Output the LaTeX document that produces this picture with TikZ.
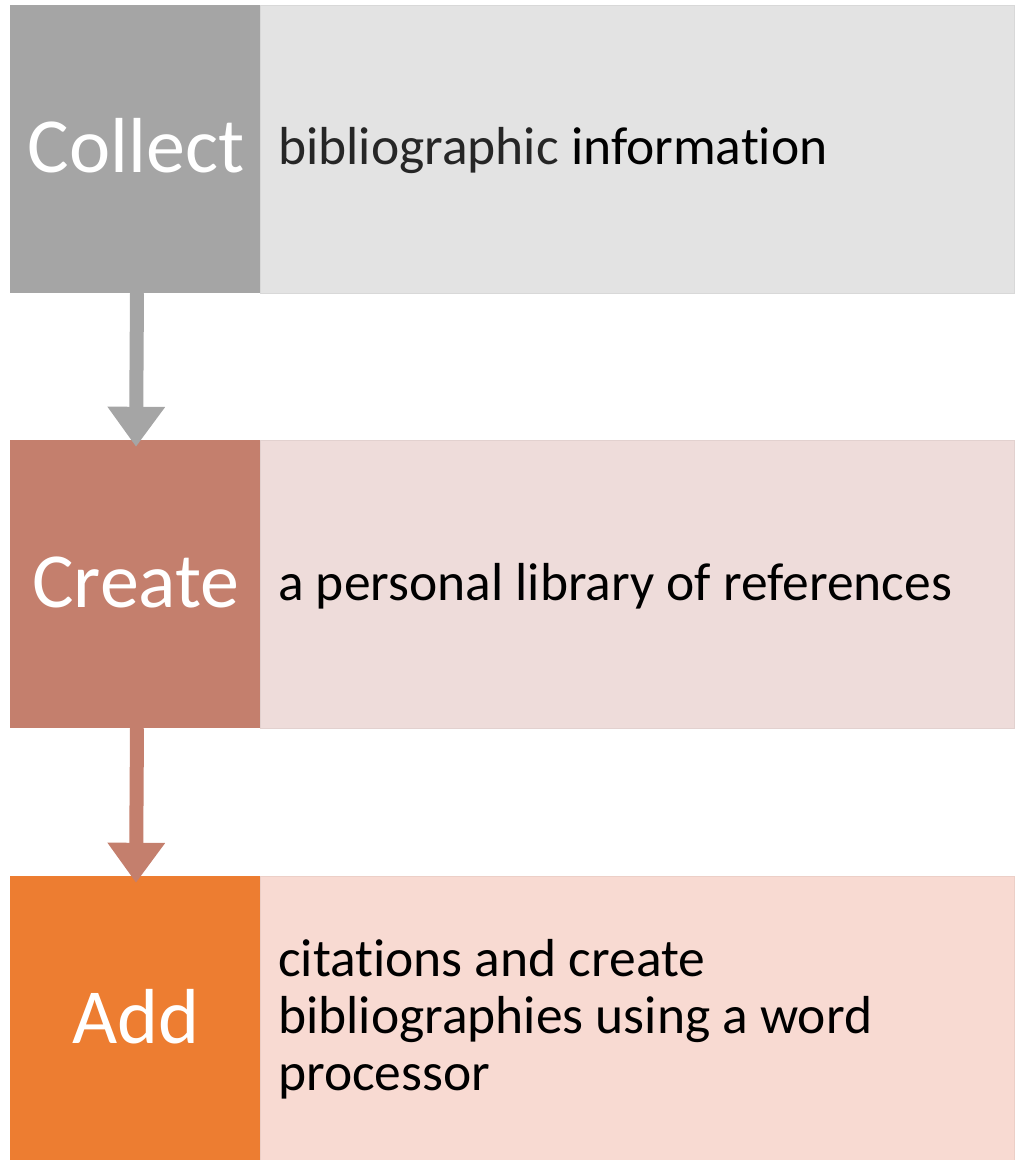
\documentclass[tikz,border=0pt]{standalone}
\usepackage{fontspec}
\setmainfont[Ligatures=NoCommon]{Carlito}
\usetikzlibrary{arrows.meta}
\definecolor{grayD}{HTML}{A5A5A5}
\definecolor{grayL}{HTML}{E3E3E3}
\definecolor{roseD}{HTML}{C47F6D}
\definecolor{roseL}{HTML}{EEDCDA}
\definecolor{orD}{HTML}{ED7D31}
\definecolor{orL}{HTML}{F8DAD2}
\tikzset{
  keybox/.style={fill=#1, draw=none, minimum width=250pt, minimum height=288pt, inner sep=0pt},
  keytext/.style={anchor=base, text=white, font=\fontsize{78}{86}\selectfont, inner sep=0pt},
  descbox/.style={fill=#1, draw=#1!95!black, line width=1pt, minimum width=754pt, minimum height=288pt, inner sep=0pt},
  desctext/.style={anchor=base west, inner sep=0pt, align=left, font=\fontsize{53.5}{57}\selectfont, text=black},
  flowarrow/.style={draw=#1, line width=14pt, -{Triangle[width=55pt,length=40pt]}}
}
\begin{document}
\begin{tikzpicture}[x=1pt,y=-1pt]
\useasboundingbox (0,0) rectangle (1019,1160);
\begin{scope}
\clip (0,0) rectangle (1019,1160);
% row 1
\node[descbox=grayL] (d1) at (637,149) {};
\node[keybox=grayD] (k1) at (135,149) {};
% row 2
\node[descbox=roseL] (d2) at (637,584) {};
\node[keybox=roseD] (k2) at (135,584) {};
% row 3
\node[descbox=orL] (d3) at (637,1020) {};
\node[keybox=orD] (k3) at (135,1020) {};
\end{scope}
% labels
\node[keytext] (l1) at (136,172) {Collect};
\node[keytext] (l2) at (136,607) {Create};
\node[keytext] (l3) at (136,1043) {Add};
\node[desctext] (t1) at (278,164) {{\color{black!85}bibliographic} information};
\node[desctext] (t2) at (278,600) {a personal library of references};
\node[desctext, anchor=north west] (t3) at (278,939) {citations and create\\bibliographies using a word\\processor};
% arrows
\coordinate (a1s) at ([xshift=2pt]k1.south);
\coordinate (a1e) at ([xshift=1pt,yshift=-7pt]k2.north);
\coordinate (a2s) at ([xshift=2pt]k2.south);
\coordinate (a2e) at ([xshift=1pt,yshift=-7pt]k3.north);
\draw[flowarrow=grayD] (a1s) -- (a1e);
\draw[flowarrow=roseD] (a2s) -- (a2e);
\end{tikzpicture}
\end{document}
